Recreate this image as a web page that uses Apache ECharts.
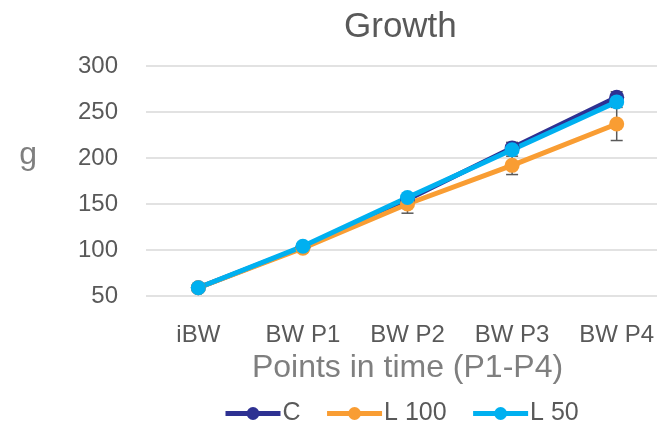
<!DOCTYPE html>
<html>
<head>
<meta charset="utf-8">
<script src="https://cdn.jsdelivr.net/npm/echarts@6/dist/echarts.min.js"></script>
<style>
  html, body { margin: 0; padding: 0; background: #fff; }
  #chart { width: 657px; height: 423px; }
</style>
</head>
<body>
<div id="chart"></div>
<script>
// categories and values
const categories = ['iBW', 'BW P1', 'BW P2', 'BW P3', 'BW P4']
const seriesNames = ['C', 'L 100', 'L 50']
const cValues = [59, 103, 155, 211, 266]
const l100Values = [59, 102, 150, 192, 237]
const l50Values = [59, 104, 157, 209, 261]
// error bars (+/-)
const cErrors = [0, 0, 0, 6, 6]
const l100Errors = [0, 0, 10, 10, 18]
const l50Errors = [0, 0, 0, 0, 0]
const colors = ['#2E3192', '#F99D33', '#00B0F0']

const chart = echarts.init(document.getElementById('chart'))
const font = 'Liberation Sans, Noto Sans, sans-serif'
const grey = '#595959'

function errorSeries(values, errors) {
  return {
    type: 'custom',
    silent: true,
    z: 1,
    data: values.map((v, i) => [i, v, errors[i]]),
    renderItem(params, api) {
      const x = api.value(0), y = api.value(1), e = api.value(2)
      if (!e) return null
      const hi = api.coord([x, y + e])
      const lo = api.coord([x, y - e])
      const style = { stroke: grey, lineWidth: 1.5 }
      return {
        type: 'group',
        children: [
          { type: 'line', shape: { x1: hi[0], y1: hi[1], x2: lo[0], y2: lo[1] }, style },
          { type: 'line', shape: { x1: hi[0] - 6, y1: hi[1], x2: hi[0] + 6, y2: hi[1] }, style },
          { type: 'line', shape: { x1: lo[0] - 6, y1: lo[1], x2: lo[0] + 6, y2: lo[1] }, style }
        ]
      }
    }
  }
}

function lineSeries(name, values, color) {
  return {
    name,
    type: 'line',
    z: 2,
    data: values,
    symbol: 'circle',
    symbolSize: 15,
    lineStyle: { width: 5, color },
    itemStyle: { color },
    emphasis: { disabled: true }
  }
}

const option = {
  animation: false,
  textStyle: { fontFamily: font },
  title: {
    text: 'Growth',
    left: 339,
    top: 5,
    textStyle: { fontSize: 35, fontWeight: 'normal', color: grey, fontFamily: font }
  },
  legend: {
    data: seriesNames,
    top: 396,
    left: 218,
    itemWidth: 55,
    itemHeight: 16,
    itemGap: 24,
    lineStyle: { width: 5 },
    textStyle: { fontSize: 25, color: grey, fontFamily: font, padding: [0, 0, 0, -3] }
  },
  grid: { left: 146, top: 66, width: 523, height: 230, outerBoundsMode: 'none' },
  xAxis: {
    type: 'category',
    data: categories,
    name: 'Points in time (P1-P4)',
    nameLocation: 'middle',
    nameGap: 54,
    nameTextStyle: { fontSize: 32, color: '#7f7f7f', fontFamily: font },
    axisLine: { show: false },
    axisTick: { show: false },
    axisLabel: { fontSize: 24, color: grey, margin: 27 }
  },
  yAxis: {
    type: 'value',
    min: 50,
    max: 300,
    interval: 50,
    name: 'g',
    nameLocation: 'middle',
    nameRotate: 0,
    nameGap: 109,
    nameTextStyle: { fontSize: 32, color: '#7f7f7f', fontFamily: font, verticalAlign: 'bottom', lineHeight: 52 },
    axisLabel: { fontSize: 24, color: grey, margin: 28 },
    splitLine: { lineStyle: { color: '#d9d9d9', width: 1.5 } }
  },
  series: [
    errorSeries(cValues, cErrors),
    errorSeries(l100Values, l100Errors),
    errorSeries(l50Values, l50Errors),
    lineSeries(seriesNames[0], cValues, colors[0]),
    lineSeries(seriesNames[1], l100Values, colors[1]),
    lineSeries(seriesNames[2], l50Values, colors[2])
  ]
}

chart.setOption(option)
</script>
</body>
</html>
